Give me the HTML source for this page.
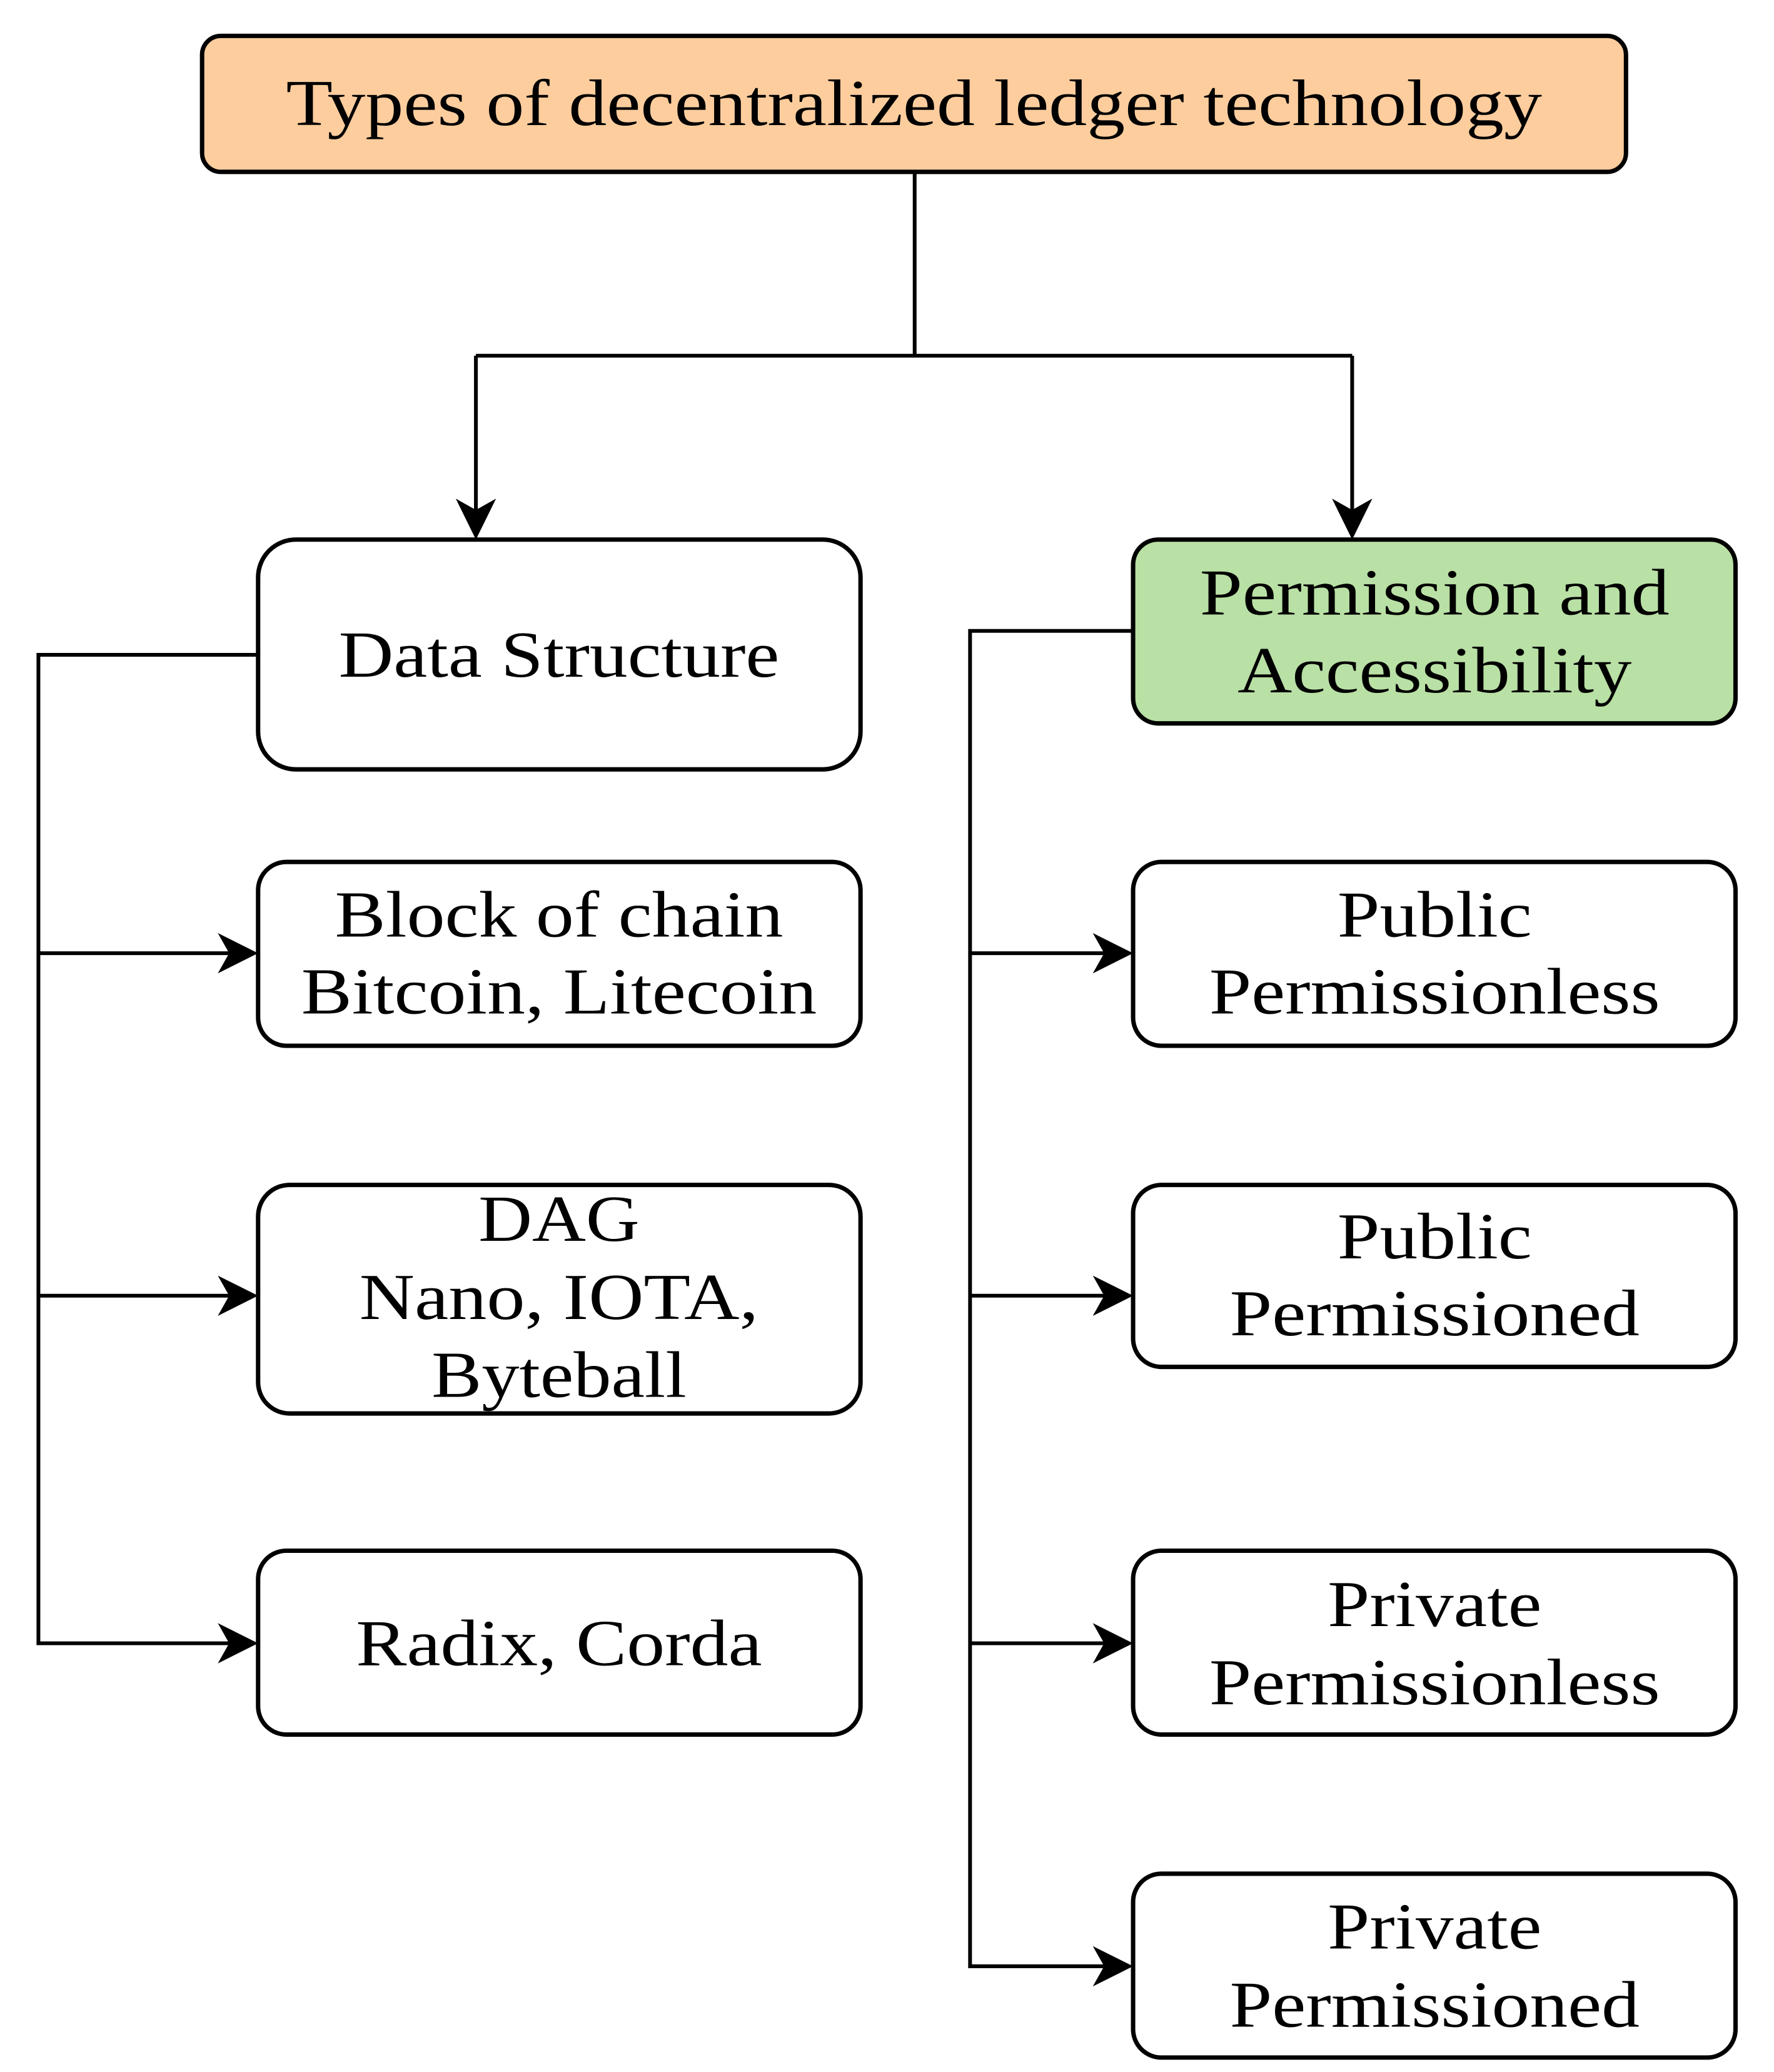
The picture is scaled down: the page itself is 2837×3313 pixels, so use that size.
<!DOCTYPE html>
<html><head><style>html,body{margin:0;padding:0;background:#fff}</style></head>
<body>
<svg width="2837" height="3308" viewBox="0 0 2837 3308" xmlns="http://www.w3.org/2000/svg" font-family="Liberation Serif, serif" font-size="104" text-anchor="middle">
<g transform="scale(1.0067,1.0067)">
<g fill="none" stroke="#000" stroke-width="6">
<path d="M1453 273V565M756 565H2148M756 565V830M2148 565V830"/>
<path d="M410 1040H61V2610H380M61 1514H380M61 2058H380"/>
<path d="M1800 1002H1541V3123H1770M1541 1514H1770M1541 2058H1770M1541 2610H1770"/>
</g>
<g fill="#000">
<path d="M756 857L724 792L756 810L788 792Z"/>
<path d="M2148 857L2116 792L2148 810L2180 792Z"/>
<path d="M410 1514L346 1482L364 1514L346 1546Z"/>
<path d="M410 2058L346 2026L364 2058L346 2090Z"/>
<path d="M410 2610L346 2578L364 2610L346 2642Z"/>
<path d="M1800 1514L1736 1482L1754 1514L1736 1546Z"/>
<path d="M1800 2058L1736 2026L1754 2058L1736 2090Z"/>
<path d="M1800 2610L1736 2578L1754 2610L1736 2642Z"/>
<path d="M1800 3123L1736 3091L1754 3123L1736 3155Z"/>
</g>
<g stroke="#000" stroke-width="7">
<rect x="321" y="57" width="2262" height="216" rx="30" fill="#fdcd9e"/>
<rect x="410" y="857" width="957" height="365" rx="60" fill="#fff"/>
<rect x="1800" y="857" width="957" height="292" rx="40" fill="#b9e0a5"/>
<rect x="410" y="1369" width="957" height="292" rx="45" fill="#fff"/>
<rect x="410" y="1882" width="957" height="363" rx="50" fill="#fff"/>
<rect x="410" y="2463" width="957" height="292" rx="45" fill="#fff"/>
<rect x="1800" y="1369" width="957" height="292" rx="45" fill="#fff"/>
<rect x="1800" y="1882" width="957" height="289" rx="45" fill="#fff"/>
<rect x="1800" y="2463" width="957" height="292" rx="45" fill="#fff"/>
<rect x="1800" y="2976" width="957" height="292" rx="45" fill="#fff"/>
</g>
<g fill="#000" dominant-baseline="central">
<text x="1452" y="164" textLength="1995" lengthAdjust="spacingAndGlyphs">Types of decentralized ledger technology</text>
<text x="888" y="1040" textLength="700" lengthAdjust="spacingAndGlyphs">Data Structure</text>
<text x="888" y="1453" textLength="712" lengthAdjust="spacingAndGlyphs">Block of chain</text>
<text x="888" y="1575" textLength="819" lengthAdjust="spacingAndGlyphs">Bitcoin, Litecoin</text>
<text x="888" y="1936" textLength="256" lengthAdjust="spacingAndGlyphs">DAG</text>
<text x="888" y="2060" textLength="634" lengthAdjust="spacingAndGlyphs">Nano, IOTA,</text>
<text x="888" y="2184" textLength="405" lengthAdjust="spacingAndGlyphs">Byteball</text>
<text x="888" y="2610" textLength="645" lengthAdjust="spacingAndGlyphs">Radix, Corda</text>
<text x="2279" y="941" textLength="746" lengthAdjust="spacingAndGlyphs">Permission and</text>
<text x="2279" y="1065" textLength="626" lengthAdjust="spacingAndGlyphs">Accessibility</text>
<text x="2279" y="1453" textLength="309" lengthAdjust="spacingAndGlyphs">Public</text>
<text x="2279" y="1575" textLength="716" lengthAdjust="spacingAndGlyphs">Permissionless</text>
<text x="2279" y="1964" textLength="309" lengthAdjust="spacingAndGlyphs">Public</text>
<text x="2279" y="2086" textLength="651" lengthAdjust="spacingAndGlyphs">Permissioned</text>
<text x="2279" y="2548" textLength="340" lengthAdjust="spacingAndGlyphs">Private</text>
<text x="2279" y="2672" textLength="716" lengthAdjust="spacingAndGlyphs">Permissionless</text>
<text x="2279" y="3060" textLength="340" lengthAdjust="spacingAndGlyphs">Private</text>
<text x="2279" y="3184" textLength="651" lengthAdjust="spacingAndGlyphs">Permissioned</text>
</g>
</g>
</svg>
</body></html>
